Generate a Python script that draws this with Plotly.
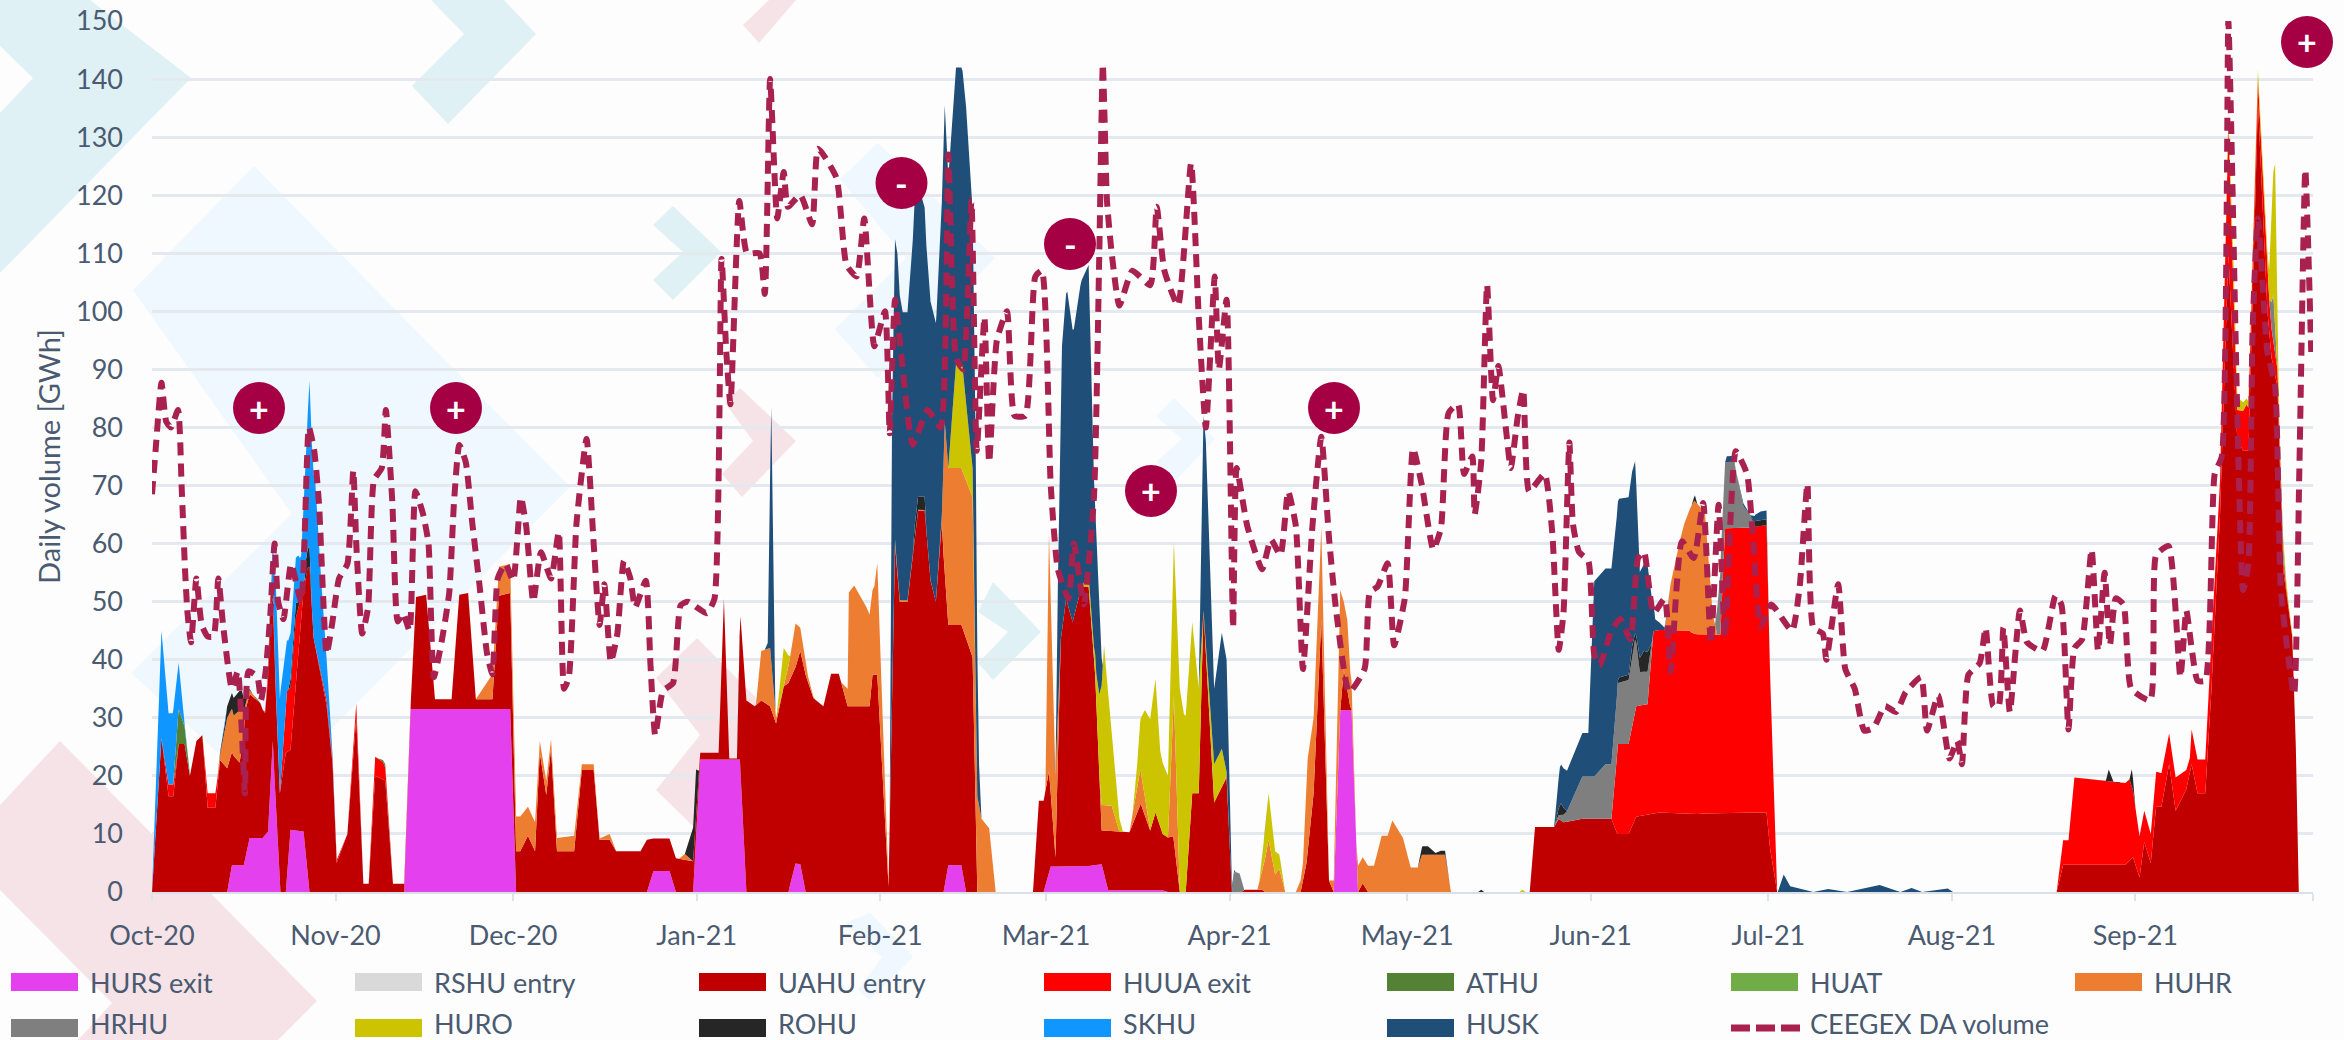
import pandas as pd
import plotly.graph_objects as go

START = pd.Timestamp("2020-10-01")

tick_dates = ["2020-10-01","2020-11-01","2020-12-01","2021-01-01","2021-02-01","2021-03-01","2021-04-01","2021-05-01","2021-06-01","2021-07-01","2021-08-01","2021-09-01","2021-10-01"]
tick_labels = ["Oct-20","Nov-20","Dec-20","Jan-21","Feb-21","Mar-21","Apr-21","May-21","Jun-21","Jul-21","Aug-21","Sep-21",""]
y_ticks = [0,10,20,30,40,50,60,70,80,90,100,110,120,130,140,150]

# days since 1 Oct 2020 / GWh
hurs_d = [0,12.7,13.5,15.5,16.5,18.7,19.6,20.4,21.6,22.6,23.4,25.6,26.6,42.6,43.7,60.5,61.5,83.6,84.7,87.4,88.5,91.4,92.6,99.3,100.4,107.5,108.6,109.5,110.4,133.7,134.5,136.7,137.5,150.6,151.8,157.8,160.4,161.5,170.7,171.6,199.6,200.7,202.6,203.7,364]
hurs_v = [0,0,4.6,4.6,9.3,9.3,10.4,26,0,0,10.7,10.4,0,0,31.5,31.5,0,0,3.6,3.6,0,0,22.8,22.8,0,0,4.9,4.8,0,0,4.6,4.6,0,0,4.4,4.4,4.8,0.3,0.3,0,0,31.3,31.3,0,0]

rshu_d = [0,364]
rshu_v = [0,0]

uahu_d = [0,1.6,2.8,3.6,4.5,5.5,6.4,7.5,8.5,9.4,10.7,11.5,12.7,13.8,14.8,15.9,18.3,19.1,20,20.7,21.6,22.6,23.4,25.2,25.6,26.3,26.6,27.3,29.5,30.5,31.2,33,34.5,35.7,36.6,37.7,39.4,40.7,42.6,43.7,44.6,46.3,47.8,50.6,51.9,53.4,54.7,57.5,58.6,60.5,61.5,62.2,63.5,64.7,65.5,66.6,67.4,68.4,71.3,72.6,74.6,75.6,77.3,78.4,82.5,83.6,84.7,87.4,88.5,91.4,92.6,95.7,96.6,97.5,98.8,99.4,100.4,101.8,102.9,104.4,105.4,106.7,107.5,108.6,109.5,110.4,111.7,113.4,114.7,116,117.5,121.2,121.7,122.5,124.4,125.5,126.3,127.6,129.4,130.5,131.5,132.4,133.4,133.7,134.5,136.7,137.5,138.6,139.4,148.8,149.8,150.6,151.5,151.8,152.6,153.5,154.4,155.5,157,157.8,158.2,159.3,160.4,161.5,165.1,167,168.6,169.5,170.7,171.6,172.5,173.6,174.6,175.7,176.8,177.6,179.4,181.5,182.4,184,184.6,187.5,188,194,195,196.2,197.5,198.8,199.6,200.7,201.3,202.4,203.7,204.5,205.4,232.7,233.6,236.8,237.6,238.4,241.6,246.5,247.5,249.4,250.7,254.6,259.7,267.5,272.7,273.3,274.5,321.7,322.8,333.3,334.6,335.7,336.5,337.6,338.5,339.4,340.7,341.8,343.6,344.5,345.5,346.8,347.8,349.3,350.7,352.2,353.2,354.1,355.7,357.3,358,359,359.9,361.5,362.1,362.6,364]
uahu_v = [0,26.5,16.5,16.5,25.5,25.5,20,26,27,14.5,14.5,22.7,21.3,18.8,17.7,25.3,23.2,21,30.7,20,17,24,13.8,37.5,41.6,52.7,56,43.8,32,22,5,10,30,1.4,1.4,20,19.2,1.4,1.4,1,19.3,19.7,1.7,1.7,19.7,20,1.7,1.7,19.5,20,7,7,9.7,7,24,16.7,24.8,7,7,21,21,9,9,7,7,9,5.6,5.6,5.8,5.3,1.2,1.2,27.7,0.2,0.2,26.7,33,32,33,32,29,35.4,36,33.5,36.7,37.4,33.4,32,37.6,37.6,32,32,37.4,37.4,1,59.7,50,50,65.7,65.7,53.6,50,63.7,58,41.4,41.4,43.8,40.4,0,0,15.7,15.7,17.5,12.6,1.6,39.1,46.1,42.1,48.2,48.2,48.1,32.8,5.8,10.2,10,14.9,10.3,13.4,9.7,9.4,9.6,0,0,17,17,48.5,15.4,19.7,0,0,0.4,0.4,0,0,5,17,47,2,0,0,7,0.5,0,1.5,0,0,11.2,11.2,12.6,12,12.6,12.6,10,10,13,13.7,13.4,13.7,13.7,7.5,0,0,4.7,4.7,6,2.5,8.6,5,14.7,14.7,22,14,17.7,22,17,17,34,65,110,78,76,76,136,100,92,87,56,44,25,0,0]

huua_d = [0,1.6,2.8,3.6,4.5,8.5,9.4,10.7,11.5,19,20,21.6,22.8,24.3,25.2,26,27.3,29.5,31.2,33,34.5,35.7,36.6,37.7,39,40.7,246.5,247.6,249.4,250.7,252.6,253.6,259.7,260.4,264.9,265.7,269.4,272.7,273.3,274.5,321.7,322.8,323.7,324.7,334,335.6,336.5,337.6,338.6,339.6,340.7,341.8,344.2,344.5,345.5,346.8,347.8,349.3,350.7,352.2,353.8,355.7,357.3,358,359,361,364]
huua_v = [0,0,2,2,0,0,2.5,2.5,0,0,2,0,10.5,11,3,0,0,1,0.5,0,2.5,0,0,3.3,3,0,0,15.5,15.5,19,19,31.4,31.6,31,30.7,49,49,49.5,30,0,0,4.2,4.2,15,14,7.3,5.4,5,6,5.7,5.3,5.7,2.5,6,5.8,5.8,8.5,6,22,5,8,4,6,5,3,0,0]

athu_d = [0,3.5,4.5,5.5,6.5,38,39.4,40.5,364]
athu_v = [0,0,6,3,0,0,0.5,0,0]

huat_d = [0,364]
huat_v = [0,0]

huhr_d = [0,11,11.5,12.7,13.8,14.8,15.9,18,54.7,57.5,58.6,60.5,61.5,62.2,63.5,64.7,65.5,66.6,67.4,68.4,71.3,72.6,74.6,75.6,77.3,78.4,89,90,91.2,102,102.9,104.4,105.4,106.7,107.8,108.7,109.5,110.8,112,116.4,117.5,117.7,118.6,120.7,121.7,122,122.5,124.4,125.5,126,132.4,133.4,133.9,134.5,136.7,137.5,138.6,139.3,140.1,141.4,142.5,150.9,151.5,152.6,153.5,160,160.4,162.1,163.4,165.1,166.9,168.6,171.6,172.6,173.6,181,181.5,182,186.7,187.5,188.6,189.7,190.4,191.4,193.2,194.4,195.2,196.2,197.5,198.8,199.6,200.7,201.3,201.9,202.4,203.4,203.7,204.5,205.4,206.4,207.7,208.7,209.5,211.3,212.6,213.8,214.5,218.4,219.4,255.5,256.5,258.2,258.8,260.5,262.3,263.6,264.4,364]
huhr_v = [0,0,1,8.7,7,9,1,0,0,4.3,5,5,6,6,5,5,2,2.4,1.5,2.3,2.7,1,1,0.2,1,0,0,1,0,0,8.5,10,1,0,4,7.5,4,1,0,0,3,19.6,20.8,17,14.6,15.2,19.2,0.5,1,0.3,0,1,26,27,27,27,27.6,17,12.6,11,0,0,41,14,0,0,4.4,4.4,0,0,6,0,0,25,0,0,0.5,0,0,3,9,3,4,0,0,3,16,13,15.8,0,2,20.7,11.7,12,6,0,4.5,4.5,4.5,4.5,9.7,9.7,12.3,9.3,4.2,4.2,6.4,6.4,0,0,8,16,18.4,23,21,3.6,0,0]

hrhu_d = [0,182.4,182.8,183.7,184.5,236.8,239,241.6,243.6,245.5,246.5,247.6,249.4,250.5,251.3,252.6,253.6,264,265,265.7,267.2,268.8,269.8,270.7,357.6,358.3,359,359.9,360.5,364]
hrhu_v = [0,0,3.5,3.2,0,0,1.8,7.3,7.3,9.4,9.4,10.5,11,12.5,5.8,5.6,0,0,12,11.4,11.4,3.7,2.4,0,0,8,0,3,0,0]

huro_d = [0,105.5,106.7,107.8,134.5,135.8,136.9,138.6,139.3,157,158.2,159.1,159.5,160.8,161.7,162.4,163.2,164,165.6,166.4,167.7,169,169.5,170.3,171.6,172.6,173.6,174.3,175.7,176.8,177.6,179.4,180.7,181.5,182,187,188.6,189.7,190.6,191.4,231,231.5,232,350,351.6,352.5,353.8,355.7,356.7,357.6,358.6,359.3,360,361.5,362,364]
huro_v = [0,0,6.6,0,0,18,18,5,0,0,2,2,5,27.5,17,11,3,0,0,4,15,21,23,13,10.6,26.5,35,30.6,29.5,18,0,6.6,6.6,0.5,0,0,8,4,2,0,0,0.4,0,0,5,2,1,1.6,2.5,5,28,1,1.5,0.5,0,0]

rohu_d = [0,11,12.3,12.7,13.8,15.2,15.9,17,23,23.4,24.3,25,25.8,26,26.6,27,90,91.1,91.9,92.4,128.5,128.7,130.5,130.8,213.8,214.6,215.5,216.8,217.7,218.4,219.2,224,224.5,225,237,238,239,247.4,247.8,249.4,250,250.5,252,252.6,253.3,260,260.6,261,270,270.8,271.7,272.7,273.2,330,330.5,331.3,334,334.4,335,364]
rohu_v = [0,0,1,2,3,3.5,0.5,0,0,1.5,2.5,0,0,3,3.5,0,0,4.5,8,0,0,2.3,2.3,0,0,1.5,1.5,0.3,0.7,0.7,0,0,0.4,0,0,2,0,0,0.9,0.9,2,1,3.6,3.4,0,0,1,0,0,1,1,1,0,0,2,0,0,3,0,0]

skhu_d = [0,1.6,2.8,3.6,4.5,5.5,6,20,20.9,21.7,22.6,23.6,24.7,25.2,26,26.6,27.6,28.5,29.5,30.5,31.2,364]
skhu_v = [0,18.5,12.3,12.3,8,0.5,0,0,18,16,9,7.6,8,7,18,28.5,28,17,7,0.7,0,0]

husk_d = [0,103.5,104,104.6,105.3,124.6,125,125.9,126.8,127.6,128.8,130.5,131.3,132.5,133.7,134.5,135.8,136.9,137.5,138.4,139.1,139.7,140.1,152.6,153,153.7,154.6,155.7,156.8,158.2,159.1,160,160.6,176.8,177.6,178,179.4,180.7,181.5,182,182.4,183,236.8,237.8,240,241.6,242.6,243.6,245.5,246.5,247.6,249.4,250.5,251.3,252.6,253.9,255.5,256,265.7,266,267,267.5,268.8,269.8,270.7,271.7,272.7,273.2,274.6,275.6,276.7,280.6,283.1,286.3,291.8,295.3,297.2,299,303.3,304.2,364]
husk_v = [0,0,1,44,0,0,48,54.7,49.6,49.6,55.8,49.8,48,48,56,50,51,51,51,45,43,7,0,0,22,49,53.6,49.6,52.6,53.4,29,14,0,0,33.5,35,13,20,19.3,10,1,0,0,6.6,7.3,7.5,7.5,33.6,33.7,33.7,30.8,30.6,29.7,14.8,15,2,0.4,0,0,1,1,0,0.5,0,1,1.5,1.5,0,0,3,1,0,0.5,0,1.2,0,0.7,0,0.6,0,0]

ceegex_d = [0,0.6,1.6,2.4,3.2,4.4,5,5.6,6,6.6,7.5,8.4,9.4,10.4,11.2,12,13.5,14.5,15.7,16.3,17.8,18.4,19.2,20,20.7,21.3,22.2,23.5,25.2,26.5,27.4,28.2,29.5,30.4,31.6,33,34,34.5,35.5,36.5,37.5,38.8,39.5,40.6,41.5,42.4,43.5,44.5,45.8,46.7,47.6,48.9,50.2,51,51.9,53,54.1,55.3,56.6,57.5,58.4,59.7,61,62.3,63.2,64.4,65.7,67.4,68.7,69.6,70.4,71.7,73.4,74.6,75.6,76.4,77.5,78.6,79.7,80.8,81.6,83.4,84.2,85,86.3,88,89.3,90.5,93.7,95,96.2,97,97.7,99.2,100.5,102.6,103.5,104.4,105.6,106.7,107.4,109.5,111.5,112.5,115.6,117.3,119,120.3,122,123.8,124.6,125.5,126.8,128.5,131,133.2,134.5,135.8,137,138.4,139.3,140.6,141.4,142.7,144.4,145.7,147.5,149.2,150.3,151.8,153,154.8,155.7,157.4,159.1,160,160.6,161.3,162.1,163.4,165.6,168.6,169.7,171,173.3,175.5,176.8,178,179.5,180.2,181.5,182.6,183.2,185,187.5,189,190.6,191.9,193.2,194.4,196,197.5,198.8,200,202.2,204.8,205.7,207,208.7,209.8,211.6,213,214.5,216.4,217.7,219,220.6,221.6,223,223.4,224.5,225.5,226.5,227.4,228.7,229.5,230.7,231.6,232.6,235.2,236.5,237.6,238.4,239.4,240,241,242.6,243.6,244.5,246.5,248,249.7,251,252,253.6,255.5,256.5,258.4,260.4,262,263.3,264.6,265.7,267.5,269.4,270.3,271.7,273.5,277,278.3,279.6,280.6,282.2,282.8,284.8,286,287.6,289.2,290.8,292.7,294.6,296.2,298.8,299.8,301.7,303.6,304.9,305.7,306.8,308.7,309.7,311,311.9,312.7,313.8,315.5,316.7,319.3,321.5,322.5,323.7,324.7,326,327.6,328.7,329.8,330.7,331.7,333,334.3,337.5,338.5,340.6,342.6,343.6,344.5,345.5,346.8,348.4,349.6,350.7,351.2,352.2,353.2,354.1,354.8,355.7,357.3,358.6,359.6,361.8,362.7,363.7,364.7]
ceegex_v = [68.5,76,87.7,81,80,83,70,55,48,43,54,46,44,44,54,46,35,38,17,38,37,33,38,48,60,50,47,56.5,50,80,76,67,41,46,54,56.5,72.6,60,44.5,49,71,73,83,67,46.6,48,45,69,65,60,37,43,51.5,67,77,74,63.5,53,41,37.5,54,56.5,53.6,68,63,50,58.5,54,62,35,37,63.5,78,60,46,53,39.6,44.5,57,54,49,53.6,39,27,34.6,36,49.4,50,48,50.5,109,93,84,119,110,110,103,140,116,124,118,120,115,128,123,108,106,116,94,100,79,102,90,77,83,80,127,92,90,119,76,99,74,95,100,82,82,106,107,70,55.6,50.5,60,49.5,68,110,142.6,119,110,101,107,104.5,118,107,101,125.5,99,80,106,90,102,45.5,73,63,55.6,60.7,58,69,63,38.4,63,78.4,61,48.5,34.4,38.4,51.6,52.6,56.6,42.5,50.6,76.4,70,59,62.6,82.5,84,72,75,65,74,104.6,84.7,90.6,79.6,73,82,86.5,69,72,62,41.7,48,77.4,63.4,58.6,57,41,39,45,47,43.5,57.5,58.6,48,50.5,38,60.4,57.5,67,42.8,66.7,44,75.9,72,62.6,45.7,49.5,45,52.6,70.3,45.5,44.5,40,53,38.4,35,27.8,28.3,32,31,34.4,37,27.8,33.9,23,26,22,37.4,39.4,45.5,32,32,45.5,31,48.5,43,41.5,51,49.5,28,42,43.5,59,41.5,55,42.5,50.6,49.5,35,33,58,59.6,37,48.5,42,36.4,36.4,72,75,150,131,83,52,56.6,97,116,93,87,51.6,34,73,124.4,93]

series = [
    ("HURS exit", hurs_d, hurs_v, "#E540EE"),
    ("RSHU entry", rshu_d, rshu_v, "#D9D9D9"),
    ("UAHU entry", uahu_d, uahu_v, "#C00000"),
    ("HUUA exit", huua_d, huua_v, "#FF0000"),
    ("ATHU", athu_d, athu_v, "#548235"),
    ("HUAT", huat_d, huat_v, "#70AD47"),
    ("HUHR", huhr_d, huhr_v, "#ED7D31"),
    ("HRHU", hrhu_d, hrhu_v, "#7F7F7F"),
    ("HURO", huro_d, huro_v, "#CCC400"),
    ("ROHU", rohu_d, rohu_v, "#262626"),
    ("SKHU", skhu_d, skhu_v, "#0F96FF"),
    ("HUSK", husk_d, husk_v, "#1F4E79"),
]
line_name = "CEEGEX DA volume"
line_colour = "#A9214F"
text_colour = "#4A5A70"
FONT = "Lato"

L, R, T, B, W, H = 152, 2313, 21, 892, 2344, 1040
def px(x): return (x - L) / (R - L)
def py(y): return (B - y) / (B - T)
def to_dates(days): return [START + pd.Timedelta(days=float(d)) for d in days]

fig = go.Figure()
for name, d, v, col in series:
    assert len(d) == len(v), (name, len(d), len(v))
    assert all(a < b for a, b in zip(d, d[1:])), name
    fig.add_trace(go.Scatter(x=to_dates(d), y=v, name=name, mode="lines", stackgroup="one",
                             stackgaps="interpolate", line=dict(width=0, color=col), fillcolor=col,
                             showlegend=False))
assert len(ceegex_d) == len(ceegex_v), (len(ceegex_d), len(ceegex_v))
assert all(a < b for a, b in zip(ceegex_d, ceegex_d[1:]))
fig.add_trace(go.Scatter(x=to_dates(ceegex_d), y=ceegex_v, name=line_name, mode="lines",
                         line=dict(color=line_colour, width=6, dash="13px,8px", shape="spline", smoothing=0.5),
                         showlegend=False))

shapes, annos = [], []

# background chevrons (page pixels)
TEAL, BLUE, PINK = "#DFF1F4", "#EFF7FF", "#F5E3E8"
chevrons = [
    (TEAL, [(0,0),(90,0),(191,78),(0,273),(0,113),(33,78),(0,46)]),
    (TEAL, [(431,0),(504,0),(536,34),(448,124),(412,86),(464,34)]),
    (PINK, [(743,25),(769,0),(796,0),(759,43)]),
    (BLUE, [(133,290),(254,166),(570,487),(265,796),(131,673),(292,514)]),
    (TEAL, [(653,225),(673,206),(721,252),(673,300),(653,280),(683,252)]),
    (PINK, [(725,403),(740,388),(796,441),(742,497),(722,474),(753,441)]),
    (PINK, [(656,678),(697,638),(793,735),(697,830),(656,790),(700,735)]),
    (PINK, [(0,805),(60,741),(317,1001),(278,1040),(78,1040),(112,1003),(0,890)]),
    (BLUE, [(840,179),(878,143),(995,258),(878,378),(835,329),(906,258)]),
    (TEAL, [(978,612),(993,582),(1041,632),(993,680),(978,663),(1008,632)]),
    (BLUE, [(1156,416),(1174,398),(1215,439),(1174,482),(1156,462),(1182,439)]),
    (BLUE, [(845,923),(870,913),(913,957),(870,1000),(858,990),(882,957)]),
]
for col, pts in chevrons:
    path = "M" + "L".join(f"{px(a):.5f},{py(b):.5f}" for a, b in pts) + "Z"
    shapes.append(dict(type="path", path=path, xref="paper", yref="paper", fillcolor=col,
                       line=dict(width=0), layer="below"))

# +/- badges
badges = [(259,408,"+"),(456,408,"+"),(901.5,183,"-"),(1070,244,"-"),(1151,491,"+"),(1334,408,"+"),(2307,42,"+")]
for cx, cy, sign in badges:
    r = 26
    shapes.append(dict(type="circle", xref="paper", yref="paper", x0=px(cx-r), x1=px(cx+r),
                       y0=py(cy+r), y1=py(cy-r), fillcolor="#A50044", line=dict(width=0), layer="above"))
    annos.append(dict(x=px(cx), y=py(cy), xref="paper", yref="paper", text=f"<b>{sign}</b>", showarrow=False,
                      font=dict(family=FONT, size=34, color="white"), xanchor="center", yanchor="middle"))

# legend
cols = [11, 355, 699, 1044, 1387, 1731, 2075]
rows = [982, 1023]
for i, (name, _d, _v, col) in enumerate(series):
    r, c = (0, i) if i < 7 else (1, i - 7)
    x0, yc = cols[c], rows[r]
    sy = 1028 if r else yc
    shapes.append(dict(type="rect", xref="paper", yref="paper", x0=px(x0), x1=px(x0+67),
                       y0=py(sy+9), y1=py(sy-9), fillcolor=col, line=dict(width=0)))
    annos.append(dict(x=px(x0+77), y=py(yc), xref="paper", yref="paper", text=name, showarrow=False,
                      xanchor="left", yanchor="middle", font=dict(family=FONT, size=27, color=text_colour)))
shapes.append(dict(type="line", xref="paper", yref="paper", x0=px(1731), x1=px(1800), y0=py(1028), y1=py(1028),
                   line=dict(color=line_colour, width=7, dash="19px,6px")))
annos.append(dict(x=px(1808), y=py(rows[1]), xref="paper", yref="paper", text=line_name, showarrow=False,
                  xanchor="left", yanchor="middle", font=dict(family=FONT, size=27, color=text_colour)))

fig.update_layout(
    width=W, height=H, autosize=False, showlegend=False,
    margin=dict(l=L, r=W-R, t=T, b=H-B, pad=0),
    paper_bgcolor="#FDFDFE", plot_bgcolor="rgba(0,0,0,0)",
    font=dict(family=FONT, size=27, color=text_colour),
    shapes=shapes, annotations=annos,
    xaxis=dict(type="date", range=["2020-10-01","2021-10-01"], tickmode="array", tickvals=tick_dates,
               ticktext=tick_labels, ticks="outside", ticklen=7, tickcolor="#DDE3EA", tickwidth=2,
               showgrid=False, showline=True, linecolor="#D9DFE7", linewidth=2, zeroline=False, automargin=False,
               ticklabelstandoff=12, tickfont=dict(family=FONT, size=27, color=text_colour)),
    yaxis=dict(range=[0,150], tickmode="array", tickvals=y_ticks, showgrid=True, gridcolor="#E4E9EF", gridwidth=2.5,
               zeroline=False, showline=False, ticks="", ticklabelstandoff=28, automargin=False,
               tickfont=dict(family=FONT, size=27, color=text_colour),
               title=dict(text="Daily volume [GWh]", font=dict(family=FONT, size=29, color=text_colour), standoff=6)),
)
fig.write_html("out.html", config=dict(displayModeBar=False),
               post_script="document.body.style.margin='0';document.body.style.overflow='hidden';")
